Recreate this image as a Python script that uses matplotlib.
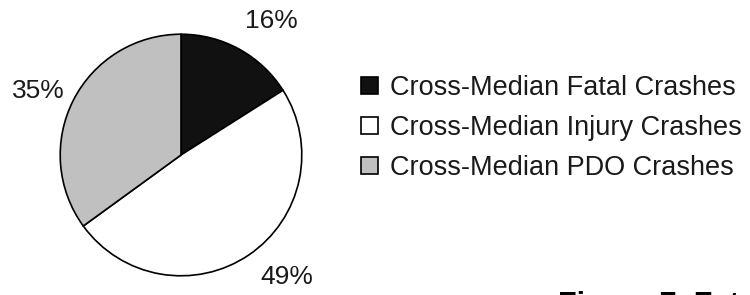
import matplotlib.pyplot as plt

plt.rcParams['font.family'] = ['Liberation Sans', 'DejaVu Sans']

categories = ['Cross-Median Fatal Crashes', 'Cross-Median Injury Crashes', 'Cross-Median PDO Crashes']
shares = [16, 49, 35]
colors = ['#111111', '#ffffff', '#c0c0c0']
# where each percent label sits, in pie-radius units from the centre
label_pos = [(0.75, 1.11), (0.88, -1.01), (-1.18, 0.53)]

fig = plt.figure(figsize=(7.5, 2.95), dpi=100)

# pie axes: centre ~ (181, 155) px, radius ~ 122 px
ax = fig.add_axes([(181 - 122) / 750, 1 - (155 + 122) / 295, 244 / 750, 244 / 295])
wedges, texts, pcts = ax.pie(shares, colors=colors, startangle=90, counterclock=False,
                             autopct=lambda p: f'{p:.0f}%', pctdistance=1.3,
                             wedgeprops=dict(edgecolor='black', linewidth=1.2),
                             textprops=dict(fontsize=19, color='#1a1a1a'))
for t, pos in zip(pcts, label_pos):
    t.set_position(pos)
    t.set_clip_on(False)
ax.set_xlim(-1.01, 1.01)
ax.set_ylim(-1.01, 1.01)
ax.set_aspect('equal')
ax.axis('off')

leg = fig.legend(wedges, categories, loc='upper left', bbox_to_anchor=(361 / 750, 1 - 75 / 295),
                 frameon=False, fontsize=19.5, handlelength=0.62, handleheight=0.62,
                 handletextpad=0.45, labelspacing=0.52, borderpad=0, borderaxespad=0)
for t in leg.get_texts():
    t.set_color('#1a1a1a')

# caption cut off at the bottom edge, as in the source image
fig.text(558 / 750, 1 - 291 / 295, 'Figure 7. Fatal', fontsize=22, fontweight='bold',
         va='top', ha='left')

fig.savefig('out.png', dpi=100)
